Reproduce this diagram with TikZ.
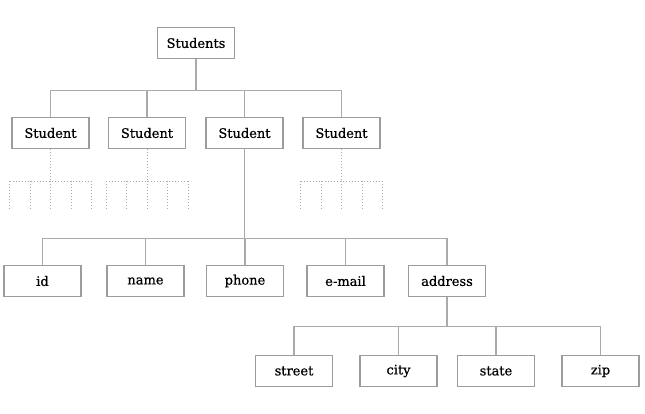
\documentclass[tikz,border=0pt]{standalone}
\usepackage{fontspec}
\setmainfont{DejaVu Serif}
\newfontfamily\boxfont{DejaVu Serif}[FakeBold=0.6]
\usepackage{tikz}
\usetikzlibrary{calc}
\definecolor{boxgray}{HTML}{9C9C9C}
\definecolor{linegray}{HTML}{AAAAAA}

\begin{document}
\begin{tikzpicture}[x=1pt, y=-1pt, font=\boxfont\fontsize{13}{15}\selectfont,
    box/.style={draw=boxgray, line width=1.3pt, fill=white, minimum width=77pt, minimum height=31pt, inner sep=0pt},
    link/.style={draw=linegray, line width=1.3pt},
    stub/.style={draw=linegray, line width=1pt, dash pattern=on 1pt off 2pt}]
        \useasboundingbox (0,0) rectangle (645,413);
        \node[box] (root) at (196,43) {Students};
        \node[box] (s1) at (50.5,133) {Student};
        \node[box] (s2) at (147,133) {Student};
        \node[box] (s3) at (244.5,133) {Student};
        \node[box] (s4) at (341.5,133) {Student};
        \node[box] (id) at (42.5,281) {id};
        \node[box] (name) at (145.5,281) {name};
        \node[box] (phone) at (245,281) {phone};
        \node[box] (email) at (345.5,281) {e-mail};
        \node[box] (address) at (447,281) {address};
        \node[box] (street) at (294,371) {street};
        \node[box] (city) at (398.5,371) {city};
        \node[box] (state) at (496,371) {state};
        \node[box] (zip) at (600.5,371) {zip};
        \foreach \c in {s1,s2,s3,s4}
          \draw[link] (root.south) -- ++(0,31) -| (\c.north);
        \foreach \c in {id,name,phone,email,address}
          \draw[link] (s3.south) -- ++(0,89) -| (\c.north);
        \foreach \c in {street,city,state,zip}
          \draw[link] (address.south) -- ++(0,29) -| (\c.north);
        \foreach \s in {s1,s2,s4} {
          \draw[stub] (\s.south) -- ++(0,32);
          \draw[stub] ($(\s.south)+(-41,32)$) -- ++(82,0);
          \foreach \dx in {-41,-20.5,0,20.5,41}
            \draw[stub] ($(\s.south)+(\dx,32)$) -- ++(0,28);
        }
      \end{tikzpicture}
\end{document}
